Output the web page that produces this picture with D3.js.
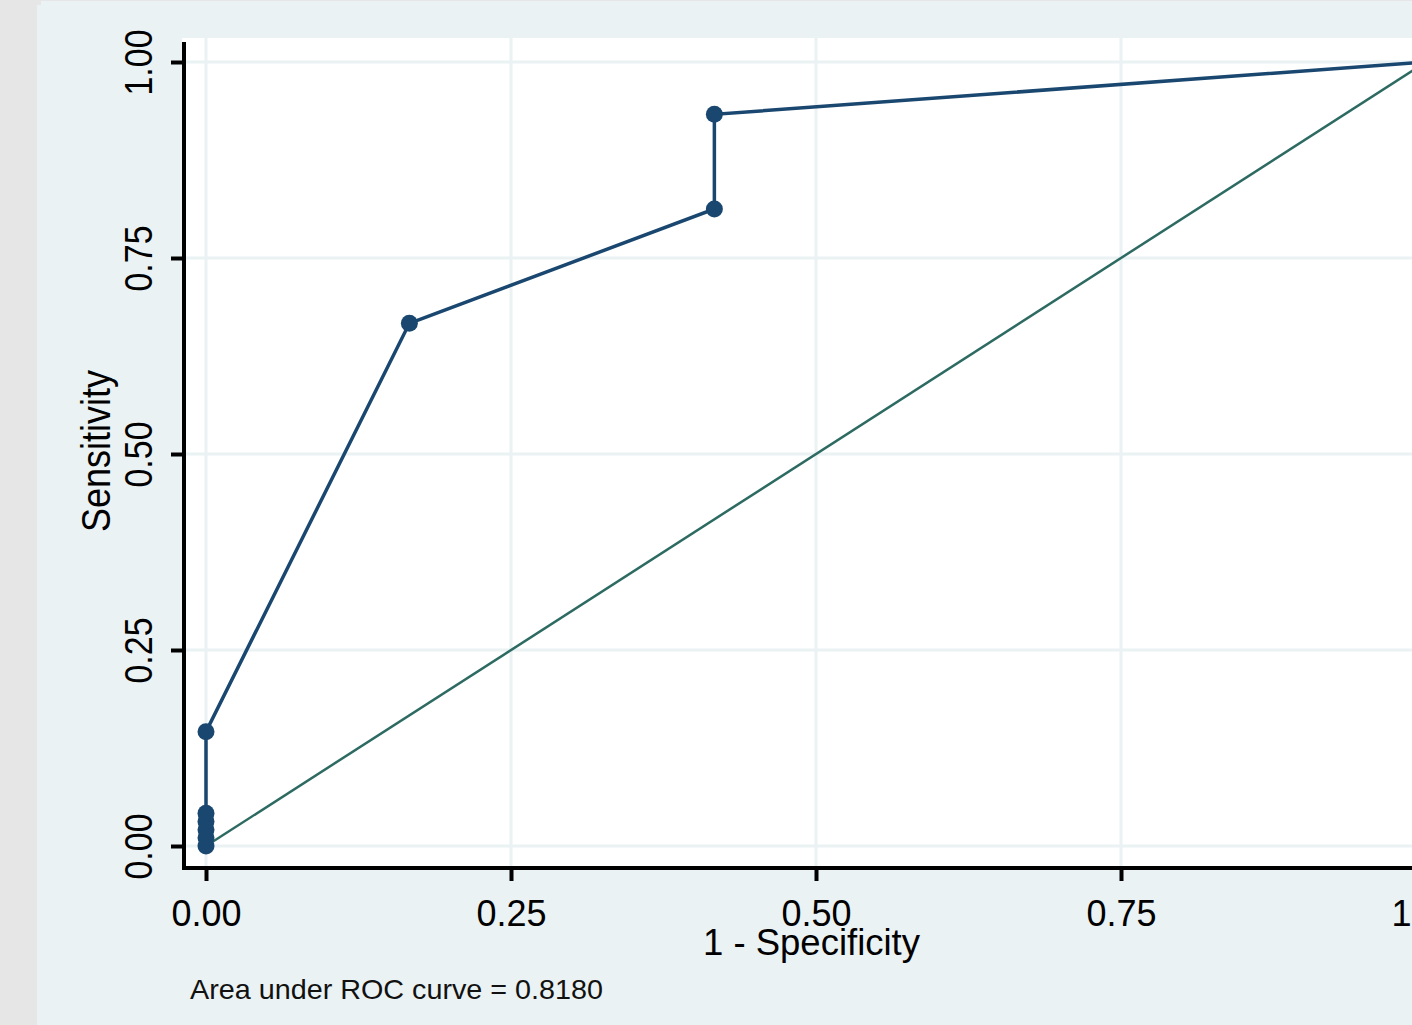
<!DOCTYPE html>
<html>
<head>
<meta charset="utf-8">
<script src="https://cdn.jsdelivr.net/npm/d3@7"></script>
<style>
  html, body { margin: 0; padding: 0; background: #e6e6e6; overflow: hidden; }
  svg { display: block; font-family: "Liberation Sans", Arial, sans-serif; }
</style>
</head>
<body>
<div id="chart"></div>
<script>
// ROC points (1 - specificity, sensitivity)
const oneMinusSpec = [0, 0, 0, 0, 0, 0, 0.1667, 0.4167, 0.4167, 1];
const sensitivity = [0, 0.0104, 0.0208, 0.0313, 0.0417, 0.1458, 0.6667, 0.8125, 0.9333, 1];
const refLine = [0, 1];
const xTicks = [0, 0.25, 0.5, 0.75, 1];
const yTicks = [0, 0.25, 0.5, 0.75, 1];
const aucNote = 'Area under ROC curve = 0.8180';

const W = 1412, H = 1025;

const svg = d3.select('#chart')
  .append('svg')
  .attr('width', W)
  .attr('height', H);

// outer panel
svg.append('rect').attr('x', 0).attr('y', 0).attr('width', W).attr('height', H).attr('fill', '#e6e6e6');
svg.append('rect').attr('x', 41).attr('y', 1).attr('width', W).attr('height', H).attr('fill', '#eaf2f3');
svg.append('rect').attr('x', 37).attr('y', 5).attr('width', W).attr('height', H).attr('fill', '#eaf2f3');

const x = d3.scaleLinear().domain([0, 1]).range([206, 1426]);
const y = d3.scaleLinear().domain([0, 1]).range([846, 62]);

// plot region
svg.append('rect')
  .attr('x', 182).attr('y', 38)
  .attr('width', W - 182).attr('height', 868 - 38)
  .attr('fill', '#ffffff');

// grid
svg.append('g')
  .selectAll('line.gx')
  .data(xTicks)
  .join('line')
  .attr('x1', d => x(d)).attr('x2', d => x(d))
  .attr('y1', 38).attr('y2', 868)
  .attr('stroke', '#eaf2f3').attr('stroke-width', 3);

svg.append('g')
  .selectAll('line.gy')
  .data(yTicks)
  .join('line')
  .attr('x1', 182).attr('x2', W)
  .attr('y1', d => y(d)).attr('y2', d => y(d))
  .attr('stroke', '#eaf2f3').attr('stroke-width', 3);

// reference line
svg.append('path')
  .datum(refLine)
  .attr('fill', 'none')
  .attr('stroke', '#2d6b62')
  .attr('stroke-width', 2.5)
  .attr('d', d3.line().x(d => x(d)).y(d => y(d)));

// ROC curve
const pts = oneMinusSpec.map((v, i) => [v, sensitivity[i]]);

svg.append('path')
  .datum(pts)
  .attr('fill', 'none')
  .attr('stroke', '#1a476f')
  .attr('stroke-width', 3.5)
  .attr('d', d3.line().x(d => x(d[0])).y(d => y(d[1])));

svg.append('g')
  .selectAll('circle')
  .data(pts)
  .join('circle')
  .attr('cx', d => x(d[0]))
  .attr('cy', d => y(d[1]))
  .attr('r', 8.5)
  .attr('fill', '#1a476f');

// axes
const fmt = d3.format('.2f');

const yAxis = svg.append('g')
  .attr('transform', 'translate(184,0)')
  .call(d3.axisLeft(y).tickValues(yTicks).tickFormat(fmt).tickSize(13).tickSizeOuter(0));
yAxis.select('.domain').remove();
yAxis.selectAll('.tick line').attr('stroke', '#000').attr('stroke-width', 4);
yAxis.selectAll('.tick text')
  .attr('x', null).attr('dy', null)
  .attr('transform', 'translate(-32,0) scale(1.12,1) rotate(-90)')
  .attr('text-anchor', 'middle')
  .attr('font-size', 34)
  .attr('fill', '#000');

const xAxis = svg.append('g')
  .attr('transform', 'translate(0,868)')
  .call(d3.axisBottom(x).tickValues(xTicks).tickFormat(fmt).tickSize(13).tickSizeOuter(0));
xAxis.select('.domain').remove();
xAxis.selectAll('.tick line').attr('stroke', '#000').attr('stroke-width', 4);
xAxis.selectAll('.tick text')
  .attr('y', 58).attr('dy', null)
  .attr('text-anchor', 'middle')
  .attr('font-size', 36)
  .attr('fill', '#000');

// axis lines
svg.append('line')
  .attr('x1', 184).attr('x2', 184).attr('y1', 42).attr('y2', 870)
  .attr('stroke', '#000').attr('stroke-width', 4);
svg.append('line')
  .attr('x1', 182).attr('x2', W).attr('y1', 868).attr('y2', 868)
  .attr('stroke', '#000').attr('stroke-width', 4);

// titles
svg.append('text')
  .attr('transform', 'translate(110,451) scale(1.15,1) rotate(-90)')
  .attr('text-anchor', 'middle')
  .attr('font-size', 36)
  .attr('fill', '#000')
  .text('Sensitivity');

svg.append('text')
  .attr('x', 703).attr('y', 955)
  .attr('font-size', 36)
  .attr('textLength', 217)
  .attr('lengthAdjust', 'spacingAndGlyphs')
  .attr('fill', '#000')
  .text('1 - Specificity');

svg.append('text')
  .attr('x', 190).attr('y', 999)
  .attr('font-size', 28.5)
  .attr('textLength', 413)
  .attr('lengthAdjust', 'spacingAndGlyphs')
  .attr('fill', '#111')
  .text(aucNote);
</script>
</body>
</html>
